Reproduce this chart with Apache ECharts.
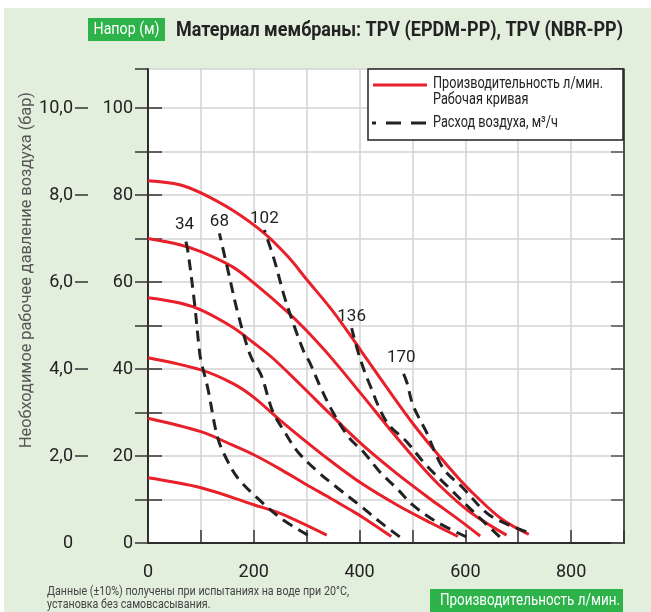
<!DOCTYPE html>
<html>
<head>
<meta charset="utf-8">
<script src="https://cdn.jsdelivr.net/npm/echarts@6/dist/echarts.min.js"></script>
<style>
  html, body { margin: 0; padding: 0; background: #fff; }
  #chart { width: 651px; height: 612px; }
</style>
</head>
<body>
<div id="chart"></div>
<script>
// рабочие кривые (л/мин, м) — от верхней к нижней
const curve83 = [[0,83.3],[60,82.4],[100,80.5],[160,76.5],[220,71.2],[265,65.8],[300,60.6],[345,54],[380,48.2],[405,43.8],[450,36],[500,27.6],[545,20.8],[585,15.2],[620,10.8],[670,5.4],[720,2]];
const curve70 = [[0,70],[60,68.6],[100,67],[160,63.5],[200,59.8],[265,53],[300,48.8],[345,42.8],[405,34],[455,26.5],[500,20],[550,13.4],[610,7],[678,1.8]];
const curve56 = [[0,56.4],[60,55.2],[100,53.6],[160,49.6],[200,46],[235,42.6],[285,36.8],[345,29.6],[405,22.6],[470,16],[535,10],[585,5.6],[628,1.6]];
const curve42 = [[0,42.6],[100,39.8],[160,36.7],[200,33.5],[250,28.2],[300,23.2],[345,18.9],[405,13.6],[470,8.8],[535,4.6],[586,1.5]];
const curve29 = [[0,28.7],[100,25.6],[160,22.5],[200,20.3],[250,17],[300,13.4],[345,10.3],[380,7.8],[405,6],[460,1.5]];
const curve15 = [[0,15],[100,12.7],[200,8.8],[250,6.8],[338,1.8]];

// расход воздуха, м3/ч (сверху вниз)
const air34 = [[69,70.6],[75,67.4],[88,55.1],[97,44.4],[100,42],[113,35.6],[132,24.1],[151,18.7],[170,14.9],[207,10.3],[251,5.7],[302,1.8]];
const air68 = [[135,71.2],[151,62.8],[170,52.8],[194,43],[214,38.6],[236,30.2],[258,25.6],[283,21],[321,16.4],[359,12.6],[400,8.7],[438,4.9],[476,1.4]];
const air102 = [[220,72],[239,65],[258,56.6],[277,49.7],[296,43.6],[305,41.7],[327,35.6],[350,30],[381,24.1],[407,21],[438,16.4],[470,12.6],[501,8.7],[545,4.9],[602,1.4]];
const air136 = [[385,49.4],[400,42.8],[418,36.8],[451,27.9],[489,23.3],[526,17.9],[570,12.6],[615,7.2],[665,1.4]];
const air170 = [[479,40],[489,37.1],[501,31.7],[526,25.6],[558,17.2],[596,12.6],[646,6.4],[715,2.6]];

const workCurves = [curve83, curve70, curve56, curve42, curve29, curve15];
const airCurves = [air34, air68, air102, air136, air170];
const airLabels = ['34', '68', '102', '136', '170'];

const xLabelValues = [0, 200, 400, 600, 800];
const mLabelValues = [0, 20, 40, 60, 80, 100];
const barLabelValues = [0, 2, 4, 6, 8, 10];

const FONT = "Roboto, 'Liberation Sans', sans-serif";
const RED = '#e8202a';
const DARK = '#222';
const GREEN = '#2db34a';
const GRIDLINE = '#d3d3d3';

// сжатие текста по ширине (в оригинале узкий шрифт)
const measureCtx = document.createElement('canvas').getContext('2d');
function fitScale(text, font, width) {
    measureCtx.font = font;
    return width / measureCtx.measureText(text).width;
}
const legendFont = '16px ' + FONT;
const legendScale = fitScale('Производительность л/мин.', legendFont, 170);
const noteFont = '13px ' + FONT;
const noteScale = fitScale('Данные (±10%) получены при испытаниях на воде при 20°C,', noteFont, 302);
const titleFont = 'bold 21px ' + FONT;
const titleText = 'Материал мембраны: TPV (EPDM-PP), TPV (NBR-PP)';
const yTitleFont = '17px ' + FONT;
const yTitleText = 'Необходимое рабочее давление воздуха (бар)';
const boxFont = '17px ' + FONT;

const chart = echarts.init(document.getElementById('chart'));

const series = [];
workCurves.forEach((c) => {
    series.push({
        name: 'Производительность л/мин.',
        type: 'line',
        data: c,
        smooth: 0.35,
        symbol: 'none',
        lineStyle: { color: RED, width: 3 },
        z: 3,
    });
});
airCurves.forEach((c, i) => {
    series.push({
        name: 'Расход воздуха, м³/ч',
        type: 'line',
        data: c.slice().reverse(),
        smooth: 0.35,
        symbol: 'none',
        lineStyle: { color: DARK, width: 3, type: [11, 7] },
        endLabel: {
            show: true,
            formatter: airLabels[i],
            distance: 0,
            align: 'center',
            verticalAlign: 'bottom',
            offset: [0, -3],
            fontFamily: FONT,
            fontSize: 17,
            color: DARK,
        },
        z: 4,
    });
});

const options = {
    animation: false,
    backgroundColor: '#e2efdd',
    grid: {
        left: 148, right: 27, top: 69, bottom: 69,
        show: true, backgroundColor: '#fff', borderWidth: 0,
    },
    xAxis: [
        {
            type: 'value', position: 'bottom', min: 0, max: 900, interval: 100,
            axisLine: { show: true, lineStyle: { color: DARK, width: 1.5 } },
            axisTick: { show: true, inside: true, length: 13, lineStyle: { color: '#333', width: 1.5 } },
            axisLabel: { customValues: xLabelValues, margin: 20, fontFamily: FONT, fontSize: 18, color: DARK },
            splitLine: { show: true, lineStyle: { color: GRIDLINE, width: 1.5 } },
        },
        {
            type: 'value', position: 'top', min: 0, max: 900,
            axisLine: { show: true, lineStyle: { color: DARK, width: 1.5 } },
            axisTick: { show: false }, axisLabel: { show: false }, splitLine: { show: false },
        },
    ],
    yAxis: [
        {
            type: 'value', position: 'left', min: 0, max: 109, interval: 10,
            axisLine: { show: true, lineStyle: { color: DARK, width: 1.5 } },
            axisTick: { show: true, length: 13, lineStyle: { color: '#333', width: 1.5 } },
            axisLabel: { customValues: mLabelValues, margin: 15, fontFamily: FONT, fontSize: 18, color: DARK },
            splitLine: { show: true, lineStyle: { color: GRIDLINE, width: 1.5 } },
        },
        {
            type: 'value', position: 'left', offset: 60, min: 0, max: 10.9, interval: 1,
            axisLine: { show: true, lineStyle: { color: DARK, width: 1.5 } },
            axisTick: { show: true, inside: true, length: 14, customValues: [1, 2, 3, 4, 5, 6, 7, 8, 9, 10], lineStyle: { color: '#333', width: 1.5 } },
            axisLabel: {
                customValues: barLabelValues, margin: 15, fontFamily: FONT, fontSize: 18, color: DARK,
                formatter: (v) => (v === 0 ? '0' : v.toFixed(1).replace('.', ',')),
            },
            splitLine: { show: false },
        },
        {
            type: 'value', position: 'left', offset: 60, min: 0, max: 10.9, interval: 1,
            axisLine: { show: false },
            axisTick: { show: true, length: 13, customValues: [2, 4, 6, 8, 10], lineStyle: { color: '#333', width: 1.5 } },
            axisLabel: { show: false },
            splitLine: { show: false },
        },
        {
            type: 'value', position: 'right', min: 0, max: 109, interval: 10,
            axisLine: { show: true, lineStyle: { color: DARK, width: 1.5 } },
            axisTick: { show: true, inside: true, length: 13, lineStyle: { color: '#555', width: 1.5 } },
            axisLabel: { show: false },
            splitLine: { show: false },
        },
    ],
    series: series,
    graphic: [
        { type: 'rect', shape: { x: 0, y: 0, width: 651, height: 8 }, style: { fill: '#fff' }, silent: true },
        { type: 'rect', shape: { x: 0, y: 0, width: 4, height: 612 }, style: { fill: '#fff' }, silent: true },
        // заголовок
        { type: 'rect', shape: { x: 88, y: 18, width: 77, height: 23 }, style: { fill: GREEN } },
        { type: 'text', x: 126.5, y: 29.5, scaleX: fitScale('Напор (м)', legendFont, 66), style: { text: 'Напор (м)', fill: '#fff', font: legendFont, align: 'center', verticalAlign: 'middle' } },
        { type: 'text', x: 176, y: 31, scaleX: fitScale(titleText, titleFont, 447), style: { text: titleText, fill: '#222', font: titleFont, align: 'left', verticalAlign: 'middle' } },
        // подпись оси
        { type: 'text', x: 27, y: 270, rotation: Math.PI / 2, scaleX: fitScale(yTitleText, yTitleFont, 356), style: { text: yTitleText, fill: '#555', font: yTitleFont, align: 'center', verticalAlign: 'middle' } },
        // легенда
        { type: 'rect', z: 10, shape: { x: 368, y: 69, width: 255, height: 71 }, style: { fill: '#fff', stroke: DARK, lineWidth: 1.5 } },
        { type: 'line', z: 11, shape: { x1: 373, y1: 85, x2: 427, y2: 85 }, style: { stroke: RED, lineWidth: 3 } },
        { type: 'text', z: 11, x: 433, y: 84, scaleX: legendScale, style: { text: 'Производительность л/мин.', fill: '#222', font: legendFont, verticalAlign: 'middle' } },
        { type: 'text', z: 11, x: 433, y: 100, scaleX: legendScale, style: { text: 'Рабочая кривая', fill: '#222', font: legendFont, verticalAlign: 'middle' } },
        { type: 'line', z: 11, shape: { x1: 372, y1: 123, x2: 427, y2: 123 }, style: { stroke: DARK, lineWidth: 3, lineDash: [15, 10], lineDashOffset: 11 } },
        { type: 'text', z: 11, x: 433, y: 123, scaleX: legendScale, style: { text: 'Расход воздуха, м³/ч', fill: '#222', font: legendFont, verticalAlign: 'middle' } },
        // примечание
        { type: 'text', x: 47, y: 592, scaleX: noteScale, style: { text: 'Данные (±10%) получены при испытаниях на воде при 20°C,', fill: '#444', font: noteFont, verticalAlign: 'middle' } },
        { type: 'text', x: 47, y: 605, scaleX: noteScale, style: { text: 'установка без самовсасывания.', fill: '#444', font: noteFont, verticalAlign: 'middle' } },
        { type: 'rect', shape: { x: 430, y: 589, width: 193, height: 23 }, style: { fill: GREEN } },
        { type: 'text', x: 530, y: 600.5, scaleX: fitScale('Производительность л/мин.', boxFont, 180), style: { text: 'Производительность л/мин.', fill: '#fff', font: boxFont, align: 'center', verticalAlign: 'middle' } },
    ],
};

chart.setOption(options);
</script>
</body>
</html>
